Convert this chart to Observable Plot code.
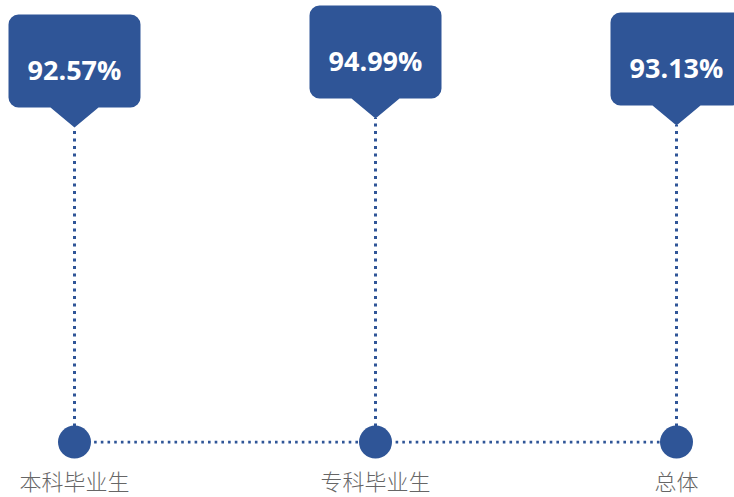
<!DOCTYPE html>
<html>
<head>
<meta charset="utf-8">
<script src="https://cdn.jsdelivr.net/npm/d3@7"></script>
<script src="https://cdn.jsdelivr.net/npm/@observablehq/plot@0.6"></script>
<style>
  html, body { margin: 0; padding: 0; background: #fff; }
</style>
</head>
<body>
<div id="chart"></div>
<script>
const categories = ["本科毕业生", "专科毕业生", "总体"];
const values = [92.57, 94.99, 93.13];
const valueLabels = ["92.57%", "94.99%", "93.13%"];
const BASE = 8;

const data = categories.map((c, i) => ({cat: c, value: values[i], label: valueLabels[i]}));
const blue = "#2F5597";

const callout = {
  draw(ctx) {
    const w = 66, ph = 20, pw = 24, top = -113, r = 10;
    ctx.moveTo(0, 0);
    ctx.lineTo(-pw, -ph);
    ctx.lineTo(-w + r, -ph);
    ctx.arcTo(-w, -ph, -w, -ph - r, r);
    ctx.lineTo(-w, top + r);
    ctx.arcTo(-w, top, -w + r, top, r);
    ctx.lineTo(w - r, top);
    ctx.arcTo(w, top, w, top + r, r);
    ctx.lineTo(w, -ph - r);
    ctx.arcTo(w, -ph, w - r, -ph, r);
    ctx.lineTo(pw, -ph);
    ctx.closePath();
  }
};

const chart = Plot.plot({
  width: 734,
  height: 497,
  marginTop: 0,
  marginBottom: 56,
  marginLeft: 0,
  marginRight: 0,
  x: {type: "point", domain: categories, range: [74, 676], padding: 0, axis: null, label: null},
  y: {domain: [BASE, 100], range: [441.6, 99.4], axis: null},
  style: {background: "#fff"},
  marks: [
    Plot.ruleY([BASE], {x1: () => categories[0], x2: () => categories[categories.length - 1], stroke: blue, strokeWidth: 2.6, strokeDasharray: "2.6 4.1"}),
    Plot.ruleX(data, {x: "cat", y1: () => BASE, y2: "value", stroke: blue, strokeWidth: 3, strokeDasharray: "3 4.5"}),
    Plot.dot(data, {x: "cat", y: () => BASE, r: 16.5, fill: blue, stroke: null}),
    Plot.dot(data, {x: "cat", y: "value", symbol: callout, fill: blue, stroke: null, r: 10}),
    Plot.text(data, {x: "cat", y: "value", text: "label", dy: -56, fill: "#fff", fontSize: 27, fontWeight: "bold", fontFamily: "'Open Sans', sans-serif"}),
    Plot.axisX({anchor: "bottom", tickSize: 0, tickPadding: 33, fontSize: 22, fill: "#666666", fontWeight: 300, fontFamily: "'Noto Sans CJK SC', sans-serif", label: null})
  ]
});
document.getElementById("chart").appendChild(chart);
</script>
</body>
</html>
